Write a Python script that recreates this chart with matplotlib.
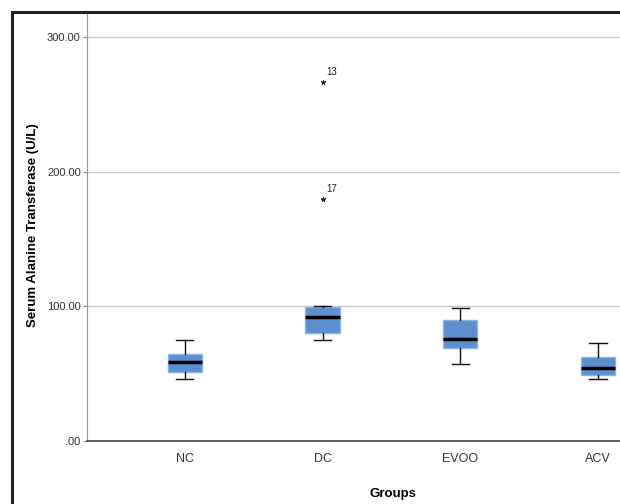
import matplotlib
matplotlib.use("Agg")
import matplotlib.pyplot as plt
from matplotlib.patches import Rectangle

groups = ["NC", "DC", "EVOO", "ACV"]
whisker_low = [46.0, 75.0, 57.0, 46.0]
q1 = [51.3, 80.3, 69.4, 49.0]
medians = [58.7, 92.2, 76.0, 54.5]
q3 = [64.7, 99.5, 90.0, 62.7]
whisker_high = [75.0, 100.0, 99.0, 73.0]
outliers = [[], [267.0, 180.0], [], []]
outlier_ids = [[], ["13", "17"], [], []]

yticks = [0, 100, 200, 300]
ytick_labels = [".00", "100.00", "200.00", "300.00"]

plt.rcParams["font.family"] = ["Liberation Sans Narrow", "Liberation Sans", "DejaVu Sans"]

fig = plt.figure(figsize=(6.2, 5.04), dpi=100)
ax = fig.add_axes([87 / 620, 63 / 504, 1 - 87 / 620, (441 - 13) / 504])

# outer frame
fig.patches.append(Rectangle((12 / 620, -0.1), 1.2, 1 - 12 / 504 + 0.1,
                             transform=fig.transFigure, fill=False,
                             edgecolor="#222222", linewidth=2.2))

stats = []
for i in range(len(groups)):
    stats.append({"whislo": whisker_low[i], "q1": q1[i], "med": medians[i],
                  "q3": q3[i], "whishi": whisker_high[i], "fliers": []})

ax.bxp(stats, positions=range(len(groups)), widths=0.25, patch_artist=True,
       showfliers=False,
       boxprops=dict(facecolor="#5b8fd0", edgecolor="#8db4e2", linewidth=1.0),
       medianprops=dict(color="black", linewidth=2.5),
       whiskerprops=dict(color="#111111", linewidth=1.0),
       capprops=dict(color="#111111", linewidth=1.0),
       capwidths=0.125)

for i, vals in enumerate(outliers):
    for v, lab in zip(vals, outlier_ids[i]):
        ax.plot(i, v, marker=(5, 2, 0), color="#222222", markersize=3.5, markeredgewidth=0.7)
        ax.annotate(lab, (i, v), xytext=(3, 5), textcoords="offset points",
                    fontsize=7, color="#222222")

ax.set_xlim(-0.71, 3.16)
ax.set_ylim(0, 318)
ax.set_yticks(yticks)
ax.set_yticklabels(ytick_labels)
ax.set_xticks(range(len(groups)))
ax.set_xticklabels(groups)
ax.tick_params(axis="y", labelsize=8, length=3, pad=1.5, color="#888888", colors="#333333")
ax.tick_params(axis="x", labelsize=9, length=0, pad=9, colors="#333333")
ax.yaxis.grid(True, color="#c8c8c8", linewidth=1.0)
ax.set_axisbelow(True)

for s in ["top", "right"]:
    ax.spines[s].set_visible(False)
ax.spines["left"].set_color("#999999")
ax.spines["bottom"].set_color("#444444")
ax.spines["bottom"].set_linewidth(1.2)

fig.text(33 / 620, 1 - 225 / 504, "Serum Alanine Transferase (U/L)", rotation=90,
         ha="center", va="center", fontsize=9.5, fontweight="bold",
         family=["Liberation Sans", "DejaVu Sans"])
fig.text(393 / 620, 1 - 494 / 504, "Groups", ha="center", va="center",
         fontsize=9.5, fontweight="bold")

fig.savefig("out.png", dpi=100)
